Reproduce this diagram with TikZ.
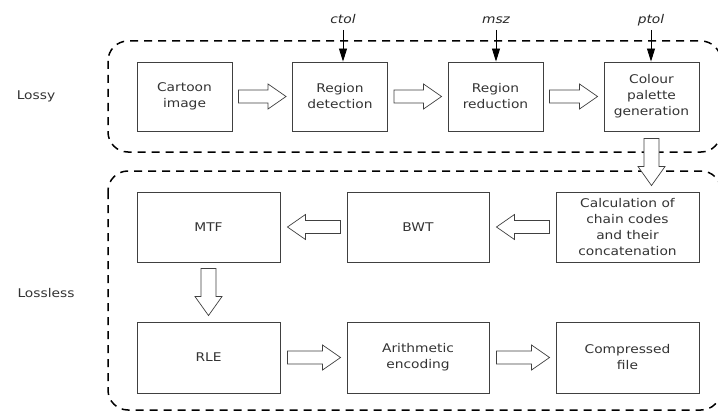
\documentclass[tikz,border=0pt]{standalone}
\usepackage{fontspec}
\setmainfont{DejaVu Sans}[FakeStretch=1.15, ItalicFont={DejaVu Sans Oblique}]
\usetikzlibrary{calc,arrows.meta}
\tikzset{
  stage/.style={draw=black!75, line width=0.9pt, inner sep=0pt, align=center,
    text=black!80, font=\fontsize{12}{16}\selectfont},
  grp/.style={draw=black, line width=1.5pt, dash pattern=on 8pt off 6pt, rounded corners=20pt},
  lbl/.style={text=black!80, font=\fontsize{12}{16}\selectfont},
  par/.style={text=black!85, font=\fontsize{12}{16}\selectfont\itshape, inner sep=0pt},
  parrow/.style={draw=black, line width=0.8pt, -{Triangle[length=13pt,width=8pt]}},
  fat/.style n args={3}{draw=black!75, line width=0.7pt, fill=white, line join=miter, to path={
    (\tikztostart) coordinate (fs) (\tikztotarget) coordinate (ft)
    ($(ft)!#3!(fs)$) coordinate (fh)
    ($(fs)!#1!90:(fh)$) -- ($(fh)!#1!-90:(fs)$) -- ($(fh)!#2!-90:(fs)$) -- (ft)
    -- ($(fh)!#2!90:(fs)$) -- ($(fh)!#1!90:(fs)$) -- ($(fs)!#1!-90:(fh)$) -- cycle}},
  fath/.style={fat={6.5pt}{12.5pt}{18pt}},
  fatv/.style={fat={7.5pt}{13.5pt}{19pt}}
}
\begin{document}
\begin{tikzpicture}[x=1pt,y=-1pt]
\useasboundingbox (0,0) rectangle (718,412);
% groups
\draw[grp] (108,41) rectangle (721,152);
\draw[grp] (108,171) rectangle (721,410);
\node[lbl] (lossy) at (36,96) {Lossy};
\node[lbl] (lossless) at (46,293) {Lossless};
% top row
\node[stage, minimum width=95pt, minimum height=69pt] (ci) at (184.5,96.5) {Cartoon\\image};
\node[stage, minimum width=95pt, minimum height=69pt] (rd) at (340,96.5) {Region\\detection};
\node[stage, minimum width=95pt, minimum height=69pt] (rr) at (495.5,96.5) {Region\\reduction};
\node[stage, minimum width=95pt, minimum height=69pt] (cp) at (651.5,96.5) {Colour\\palette\\generation};
% lossless rows
\node[stage, minimum width=143pt, minimum height=70pt] (mtf) at (208.5,227) {MTF};
\node[stage, minimum width=142pt, minimum height=70pt] (bwt) at (418,227) {BWT};
\node[stage, minimum width=143pt, minimum height=70pt] (cc) at (627.5,227) {Calculation of\\chain codes\\and their\\concatenation};
\node[stage, minimum width=143pt, minimum height=71pt] (rle) at (208.5,357.5) {RLE};
\node[stage, minimum width=142pt, minimum height=71pt] (ae) at (418,357.5) {Arithmetic\\encoding};
\node[stage, minimum width=143pt, minimum height=71pt] (cf) at (627.5,357.5) {Compressed\\file};
% parameters
\node[par, anchor=base] (ctol) at (343,24) {ctol};
\node[par, anchor=base] (msz) at (496,24) {msz};
\node[par, anchor=base] (ptol) at (651,24) {ptol};
\draw[parrow] ($(ctol.base)+(0,6)$) -- (ctol.base |- rd.north);
\draw[parrow] ($(msz.base)+(0,6)$) -- (msz.base |- rr.north);
\draw[parrow] ($(ptol.base)+(0,6)$) -- (ptol.base |- cp.north);
% hollow arrows
\draw[fath] ($(ci.east)+(6,0)$) to ($(rd.west)+(-6,0)$);
\draw[fath] ($(rd.east)+(6,0)$) to ($(rr.west)+(-6,0)$);
\draw[fath] ($(rr.east)+(6,0)$) to ($(cp.west)+(-6,0)$);
\draw[fatv] ($(cp.south)+(0,7)$) to ($(cp.south |- cc.north)+(0,-6)$);
\draw[fath] ($(cc.west)+(-6,0)$) to ($(bwt.east)+(7,0)$);
\draw[fath] ($(bwt.west)+(-6,0)$) to ($(mtf.east)+(7,0)$);
\draw[fatv] ($(mtf.south)+(0,6)$) to ($(rle.north)+(0,-6)$);
\draw[fath] ($(rle.east)+(7,0)$) to ($(ae.west)+(-6,0)$);
\draw[fath] ($(ae.east)+(7,0)$) to ($(cf.west)+(-6,0)$);
\end{tikzpicture}
\end{document}
